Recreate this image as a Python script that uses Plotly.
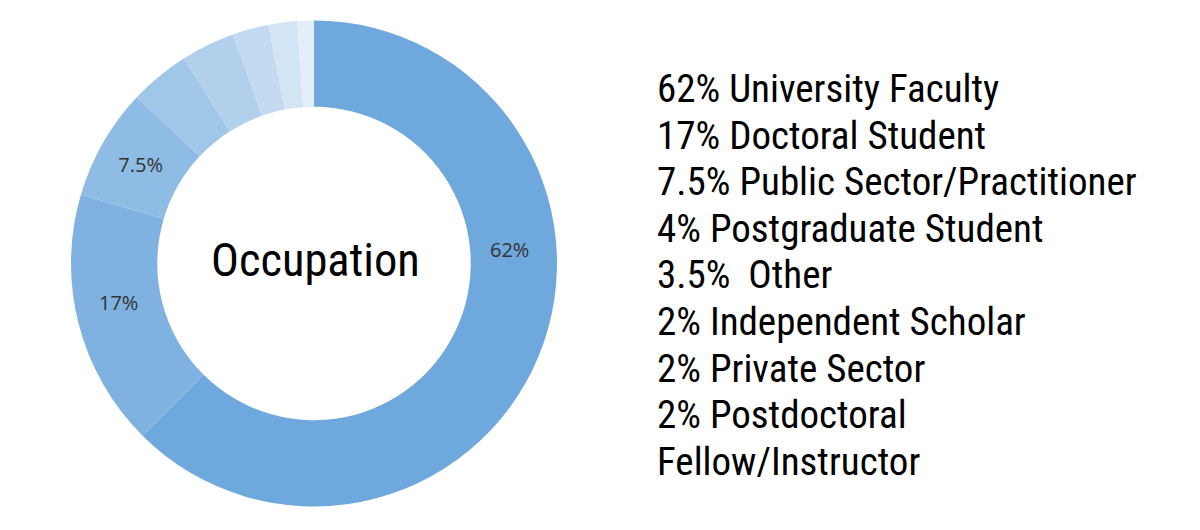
import plotly.graph_objects as go

# ---- data (slice sizes read from the drawn arcs; legend text as printed) ----
categories = ["University Faculty", "Doctoral Student", "Public Sector/Practitioner",
              "Postgraduate Student", "Other", "Independent Scholar",
              "Private Sector", "Postdoctoral Fellow/Instructor"]
values = [62.4, 17.1, 7.4, 4.0, 3.6, 2.4, 1.9, 1.1]
slice_labels = ["62%", "17%", "7.5%", "", "", "", "", ""]
legend_lines = ["62% University Faculty", "17% Doctoral Student",
                "7.5% Public Sector/Practitioner", "4% Postgraduate Student",
                "3.5%&nbsp; Other", "2% Independent Scholar", "2% Private Sector",
                "2% Postdoctoral", "Fellow/Instructor"]
center_title = "Occupation"

# ---- style ----
colors = ["#6fa8dc", "#7fb2e0", "#8fbce4", "#a0c6e8", "#b2d0ec", "#c3daf0", "#d3e4f5", "#e3eef9"]
W, H = 1200, 530
COND = "Roboto Condensed, Liberation Sans Narrow, DejaVu Sans Condensed, Roboto, sans-serif"
LABEL_FONT = dict(family="Open Sans, Noto Sans, sans-serif", size=20, color="#333333")

# labels of the first two slices are placed separately, where the reference draws them
moved = {0: (509, 249), 1: (118, 302)}
pie_text = ["" if i in moved else t for i, t in enumerate(slice_labels)]

fig = go.Figure(go.Pie(
    labels=categories,
    values=values,
    text=pie_text,
    textinfo="text",
    textposition="inside",
    insidetextorientation="horizontal",
    hole=0.645,
    sort=False,
    direction="clockwise",
    rotation=0,
    marker=dict(colors=colors, line=dict(width=0)),
    textfont=LABEL_FONT,
    domain=dict(x=[71 / W, 557 / W], y=[1 - 507 / H, 1 - 20 / H]),
    showlegend=False,
    hoverinfo="label+percent",
))

annotations = [
    dict(text=center_title, x=316 / W, y=1 - 260 / H, xref="paper", yref="paper",
         showarrow=False, xanchor="center", yanchor="middle",
         font=dict(family=COND, size=46.5, color="#000000")),
]
for i, (px, py) in moved.items():
    annotations.append(dict(text=slice_labels[i], x=px / W, y=1 - py / H,
                            xref="paper", yref="paper", showarrow=False,
                            xanchor="center", yanchor="middle", font=LABEL_FONT))
for i, line in enumerate(legend_lines):
    annotations.append(dict(
        text=line, x=655 / W, y=1 - (89 + 46.6 * i) / H, xref="paper", yref="paper",
        showarrow=False, xanchor="left", yanchor="middle",
        font=dict(family=COND, size=39, color="#000000"),
    ))

fig.update_layout(
    width=W, height=H,
    margin=dict(l=0, r=0, t=0, b=0),
    paper_bgcolor="white", plot_bgcolor="white",
    annotations=annotations,
)

fig.write_html("out.html")
